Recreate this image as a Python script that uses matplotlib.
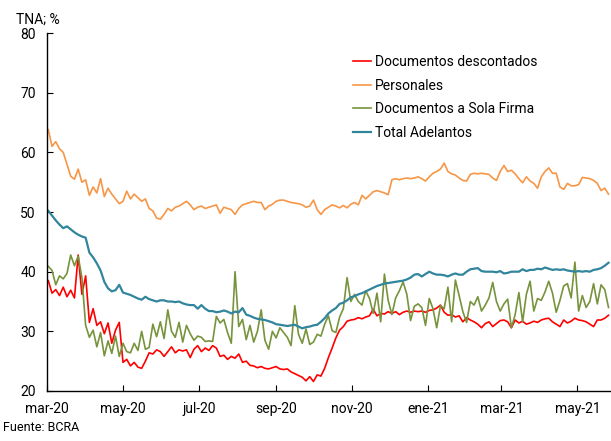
import matplotlib
matplotlib.use("Agg")
import matplotlib.pyplot as plt
import pandas as pd

plt.rcParams['font.family'] = ['Roboto', 'DejaVu Sans']

start_date = "2020-03-02"
step = "3D"

documentos_descontados = [
    38.5, 36.4, 37.0, 36.0, 37.4, 35.8, 36.9, 35.6, 42.8, 36.2,
    39.3, 31.5, 33.8, 31.0, 31.6, 29.6, 31.4, 28.0, 30.2, 31.5,
    24.8, 25.3, 24.2, 24.8, 24.0, 23.8, 25.0, 26.4, 26.2, 26.9,
    26.6, 25.8, 26.6, 27.4, 26.4, 26.9, 26.7, 26.9, 25.6, 27.0,
    27.6, 26.6, 27.2, 26.8, 27.6, 27.2, 25.8, 26.0, 25.3, 25.8,
    25.5, 26.2, 24.8, 25.0, 24.3, 24.2, 23.9, 24.1, 23.8, 23.7,
    23.9, 24.1, 23.7, 23.6, 23.7, 23.2, 22.9, 22.6, 22.3, 21.7,
    22.4, 21.6, 22.7, 22.5, 23.8, 25.6, 27.2, 28.9, 30.2, 30.8,
    31.7, 31.9, 32.0, 32.3, 32.1, 32.4, 32.6, 33.7, 32.6, 33.0,
    32.9, 33.3, 33.0, 33.3, 32.8, 33.2, 33.4, 33.2, 33.4, 33.3,
    33.4, 33.2, 33.5, 33.6, 33.9, 34.4, 33.2, 32.7, 32.8, 32.4,
    32.6, 31.6, 32.3, 31.9, 31.6, 31.2, 30.6, 31.3, 31.6, 30.8,
    31.3, 31.8, 31.9, 31.6, 30.6, 31.9, 31.4, 31.7, 31.2, 31.4,
    31.7, 31.5, 31.9, 32.1, 32.2, 31.6, 31.2, 30.8, 31.9, 31.4,
    31.7, 32.2, 31.9, 31.8, 31.6, 31.2, 30.8, 31.9, 31.9, 32.2,
    32.7,
]

personales = [
    63.8, 61.0, 61.8, 60.6, 60.0, 58.0, 56.0, 55.5, 57.2, 55.0,
    55.4, 52.8, 54.2, 53.2, 55.6, 52.6, 54.0, 53.0, 52.2, 51.4,
    51.8, 53.5, 52.2, 53.0, 52.4, 51.8, 52.2, 50.6, 50.2, 49.0,
    48.8, 49.6, 50.6, 50.2, 50.8, 51.0, 51.4, 51.8, 51.2, 50.4,
    50.8, 51.0, 50.6, 50.8, 51.0, 51.2, 49.8, 50.8, 50.6, 50.4,
    49.6, 50.6, 51.2, 51.4, 51.6, 51.8, 51.6, 51.6, 50.4, 51.0,
    51.3, 51.8, 52.0, 52.0, 51.8, 51.6, 51.5, 51.4, 51.2, 50.8,
    51.0, 52.0, 50.4, 49.6, 50.4, 50.8, 51.2, 51.0, 50.7, 51.1,
    50.7, 51.3, 51.6, 51.2, 52.8, 52.2, 52.8, 53.4, 53.6, 53.4,
    53.2, 52.9, 55.4, 55.6, 55.4, 55.6, 55.7, 55.6, 55.7, 55.9,
    55.6, 55.2, 55.9, 56.5, 56.8, 57.2, 58.2, 56.8, 56.4, 56.2,
    55.7, 55.3, 55.2, 56.3, 56.5, 56.4, 56.5, 56.4, 56.3, 55.7,
    55.3, 56.8, 57.8, 56.8, 57.0, 56.4, 55.6, 54.9, 55.9, 55.2,
    54.8, 54.0, 55.9, 56.8, 57.4, 56.5, 56.5, 54.2, 53.8, 54.8,
    54.4, 54.4, 54.6, 55.8, 55.7, 55.6, 55.3, 54.8, 53.6, 54.0,
    53.0,
]

sola_firma = [
    40.9, 40.2, 37.8, 39.3, 38.8, 39.7, 42.8, 41.0, 42.6, 39.0,
    31.0, 29.0, 30.2, 27.4, 29.8, 25.9, 28.4, 26.3, 29.2, 25.8,
    28.0, 26.6, 26.4, 28.0, 26.8, 30.0, 27.0, 27.3, 31.2, 29.1,
    31.6, 28.8, 33.6, 30.0, 29.0, 31.5, 28.2, 31.0, 29.6, 28.5,
    29.2, 29.0, 28.3, 28.4, 28.3, 32.5, 31.4, 32.0, 29.8, 28.0,
    40.0, 30.8, 32.0, 28.6, 31.0, 28.2, 30.0, 33.6, 28.5, 27.0,
    30.0, 28.9, 30.6, 29.8, 29.0, 27.6, 34.3, 29.5, 28.0, 30.4,
    27.8, 28.2, 29.5, 29.2, 31.2, 32.6, 30.1, 29.8, 32.4, 33.8,
    39.0, 35.0, 36.2, 35.0, 34.4, 36.8, 35.5, 33.0, 36.4, 31.6,
    39.6, 35.2, 32.8, 35.6, 36.8, 38.3, 36.2, 31.8, 34.2, 34.6,
    34.0, 31.0, 35.5, 33.8, 30.6, 34.3, 33.8, 37.4, 31.6, 38.6,
    36.0, 33.3, 31.5, 35.0, 34.4, 35.8, 33.4, 34.4, 35.6, 38.2,
    35.0, 33.4, 34.6, 35.4, 30.6, 32.8, 36.5, 31.6, 36.2, 38.4,
    33.4, 35.5, 35.2, 36.6, 38.4, 36.4, 33.2, 35.2, 37.6, 38.0,
    35.6, 41.6, 33.4, 36.0, 34.0, 35.0, 38.0, 34.6, 37.8, 37.0,
    34.0,
]

total_adelantos = [
    50.2, 49.4, 48.6, 47.9, 47.3, 47.6, 47.1, 46.6, 46.2, 45.9,
    45.7, 43.2, 42.4, 41.4, 40.2, 38.3, 37.2, 36.7, 36.9, 37.8,
    36.5, 36.3, 36.1, 35.8, 35.5, 35.3, 35.8, 35.4, 35.2, 35.0,
    35.2, 35.2, 35.0, 35.0, 34.9, 35.0, 34.7, 34.5, 34.4, 34.4,
    33.8, 34.4, 33.8, 33.4, 33.4, 33.2, 33.3, 33.5, 33.3, 33.0,
    33.3, 33.2, 33.9, 32.8, 32.6, 32.3, 32.1, 32.0, 31.9, 31.7,
    31.5, 31.2, 31.1, 31.0, 30.9, 31.0, 31.1, 30.8, 30.5, 30.7,
    30.8, 31.0, 31.1, 31.6, 32.2, 33.0, 33.5, 33.9, 34.6, 34.8,
    35.2, 35.7, 35.9, 36.2, 36.4, 36.7, 37.0, 37.3, 37.6, 37.8,
    38.0, 38.1, 38.2, 38.3, 38.4, 38.5, 38.7, 39.0, 39.5, 39.6,
    39.2, 39.6, 40.0, 39.7, 39.5, 39.5, 39.4, 39.2, 39.5, 39.7,
    39.5, 39.5, 40.0, 40.4, 40.5, 40.6, 40.1, 40.0, 40.0, 40.0,
    39.9, 40.1, 39.7, 39.8, 40.0, 40.0, 40.0, 40.4, 40.1, 40.3,
    40.3, 40.5, 40.4, 40.7, 40.5, 40.3, 40.4, 40.3, 40.4, 40.2,
    40.1, 40.0, 40.1, 40.0, 40.1, 40.0, 40.3, 40.4, 40.6, 41.0,
    41.5,
]

series_names = ["Documentos descontados", "Personales",
                "Documentos a Sola Firma", "Total Adelantos"]
series_colors = ["#FF0000", "#F79646", "#77933C", "#31859C"]
series_widths = [1.2, 1.2, 1.2, 1.6]

tick_dates = ["2020-03-01", "2020-05-01", "2020-07-01", "2020-09-01",
              "2020-11-01", "2021-01-01", "2021-03-01", "2021-05-01"]
tick_labels = ["mar-20", "may-20", "jul-20", "sep-20",
               "nov-20", "ene-21", "mar-21", "may-21"]
y_ticks = [20, 30, 40, 50, 60, 70, 80]

dates = pd.date_range(start_date, periods=len(personales), freq=step)

fig = plt.figure(figsize=(6.11, 4.41), dpi=100)
ax = fig.add_axes([0.077, 0.1134, 0.923, 0.8116])

for vals, name, col, lw in zip(
        [documentos_descontados, personales, sola_firma, total_adelantos],
        series_names, series_colors, series_widths):
    ax.plot(dates, vals, color=col, lw=lw, label=name)

ax.set_ylim(20, 80)
ax.set_yticks(y_ticks)
ax.set_xlim(pd.Timestamp("2020-03-01"), pd.Timestamp("2021-05-28"))
ax.set_xticks(pd.to_datetime(tick_dates))
ax.set_xticklabels(tick_labels)

for s in ["top", "right"]:
    ax.spines[s].set_visible(False)
for s in ["left", "bottom"]:
    ax.spines[s].set_color("black")
    ax.spines[s].set_linewidth(1.0)

ax.tick_params(axis="both", direction="in", length=4, width=0.8,
               labelsize=10, colors="black")
ax.tick_params(axis="y", pad=8)
ax.tick_params(axis="x", pad=8)

leg = ax.legend(loc="upper left", bbox_to_anchor=(0.578, 0.875),
                bbox_transform=fig.transFigure, frameon=False,
                fontsize=10, handlelength=1.25, handletextpad=0.3,
                labelspacing=0.69, borderpad=0, borderaxespad=0)

fig.text(0.026, 0.955, "TNA; %", fontsize=10, ha="left", va="center")
fig.text(0.005, 0.030, "Fuente: BCRA", fontsize=9, ha="left", va="center")

fig.savefig("out.png", dpi=100)
